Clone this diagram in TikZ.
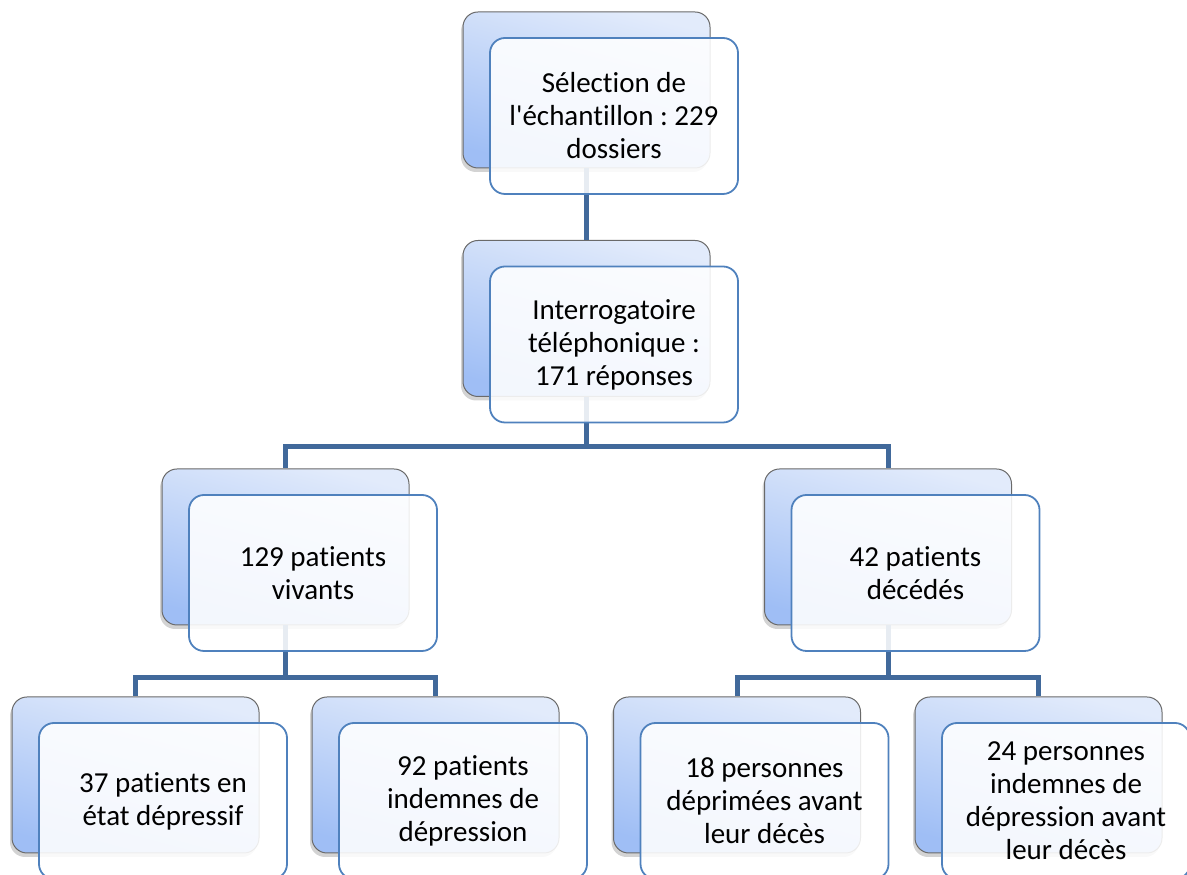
\documentclass[tikz,border=0pt]{standalone}
\usepackage{fontspec}
\setmainfont{Carlito}[Ligatures={TeXOff,CommonOff}]
\frenchspacing
\usetikzlibrary{calc, positioning}
\usetikzlibrary{shadows}

\definecolor{linkblue}{HTML}{41699B}
\definecolor{frontedge}{HTML}{4F81BD}
\definecolor{backtop}{HTML}{E2EBFB}
\definecolor{backbot}{HTML}{9FBEF5}
\definecolor{backedge}{HTML}{6A6A6A}

\tikzset{
  backbox/.style={draw=backedge, line width=1pt, rounded corners=15pt,
    minimum width=247pt, minimum height=156pt,
    top color=backtop, bottom color=backbot, shading angle=-15,
    drop shadow={shadow xshift=-2pt, shadow yshift=-4pt, opacity=0.35}},
  frontbox/.style={draw=frontedge, line width=1.8pt, rounded corners=15pt,
    minimum width=248pt, minimum height=156pt,
    fill=white, fill opacity=0.88, text opacity=1, align=center,
    font=\fontsize{29}{33}\selectfont},
  link/.style={draw=linkblue, line width=5pt}
}

\begin{document}
\begin{tikzpicture}[x=1pt, y=1pt]
\def\dx{27.5}
\def\dy{-26}
\useasboundingbox (0,0) rectangle (1187,875);
\clip (0,0) rectangle (1187,875);

\node[backbox] (sel) at (586.5,785) {};
\node[backbox] (tel) at (586.5,556.5) {};
\node[backbox] (viv) at (285.5,328) {};
\node[backbox] (dec) at (888,328) {};
\node[backbox] (dep) at (135.5,100) {};
\node[backbox] (ind) at (435.5,100) {};
\node[backbox] (avd) at (737,100) {};
\node[backbox] (sad) at (1038.5,100) {};

\draw[link] (sel.south) -- (tel.north);
\draw[link] (tel.south) -- ++(0,-50) -| (viv.north);
\draw[link] (tel.south) -- ++(0,-50) -| (dec.north);
\draw[link] (viv.south) -- ++(0,-52) -| (dep.north);
\draw[link] (viv.south) -- ++(0,-52) -| (ind.north);
\draw[link] (dec.south) -- ++(0,-52) -| (avd.north);
\draw[link] (dec.south) -- ++(0,-52) -| (sad.north);

\node[frontbox] (selF) at ($(sel)+(\dx,\dy)$) {Sélection de\\l'échantillon : 229\\dossiers};
\node[frontbox] (telF) at ($(tel)+(\dx,\dy)$) {Interrogatoire\\téléphonique :\\171 réponses};
\node[frontbox] (vivF) at ($(viv)+(\dx,\dy)$) {129 patients\\vivants};
\node[frontbox] (decF) at ($(dec)+(\dx,\dy)$) {42 patients\\décédés};
\node[frontbox] (depF) at ($(dep)+(\dx,\dy)$) {37 patients en\\état dépressif};
\node[frontbox] (indF) at ($(ind)+(\dx,\dy)$) {92 patients\\indemnes de\\dépression};
\node[frontbox] (avdF) at ($(avd)+(\dx,\dy)$) {18 personnes\\déprimées avant\\leur décès};
\node[frontbox] (sadF) at ($(sad)+(\dx,\dy)$) {24 personnes\\indemnes de\\dépression avant\\leur décès};
\end{tikzpicture}
\end{document}
